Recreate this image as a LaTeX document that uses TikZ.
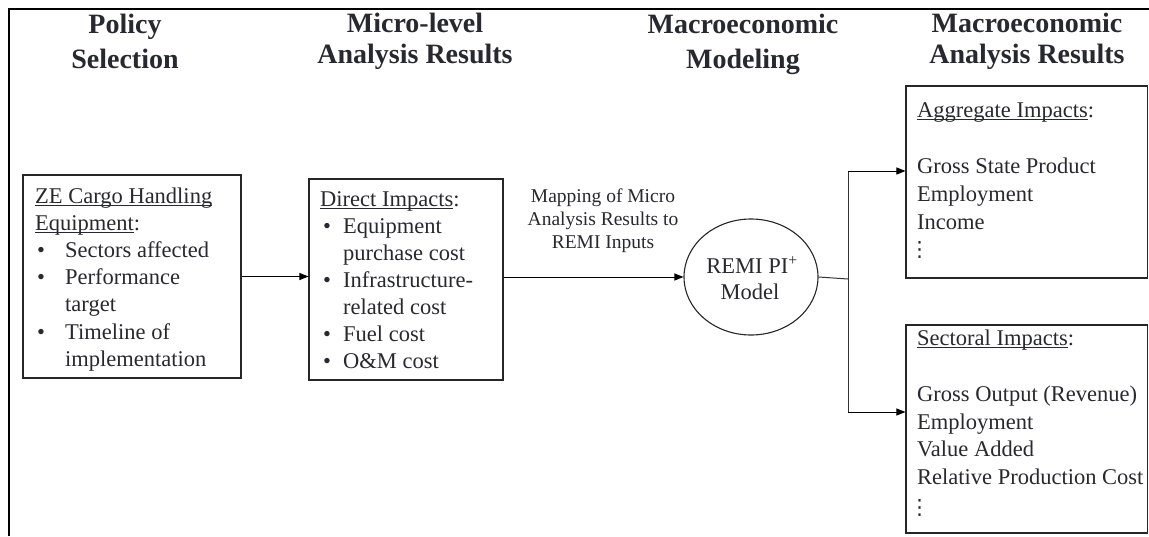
\documentclass[tikz,border=0pt]{standalone}
\usepackage{fontspec}
\setmainfont{Liberation Serif}
\newfontfamily\dvs{DejaVu Sans}
\usetikzlibrary{shapes.geometric,arrows.meta}
\definecolor{txt}{RGB}{40,40,48}
\newcommand\myul[1]{\setbox0\hbox{#1}\rlap{\rule[-3.2pt]{\wd0}{0.9pt}}\box0}
\newcommand\myvdots{{\dvs\fontsize{21}{25}\selectfont ⋮}}
\tikzset{
  ttl/.style={anchor=base,inner sep=0pt,text=txt,font=\fontsize{28}{34}\selectfont\bfseries},
  bt/.style={anchor=base west,inner sep=0pt,text=txt,font=\fontsize{22.5}{27}\selectfont},
  ct/.style={anchor=base,inner sep=0pt,text=txt,font=\fontsize{22.5}{27}\selectfont},
  lbl/.style={anchor=base,inner sep=0pt,text=txt,font=\fontsize{19.5}{23}\selectfont},
  boxx/.style={draw=black!85,line width=1.1pt,rectangle,inner sep=0pt},
  arr/.style={draw=black,line width=1pt,-{Triangle[length=9pt,width=7pt]}},
  ln/.style={draw=black!80,line width=1pt}
}
\begin{document}
\begin{tikzpicture}[x=1pt,y=-1pt]
\useasboundingbox (0,0) rectangle (1149,536);
% frame
\coordinate (fa) at (9,536);
\coordinate (fb) at (9,9);
\coordinate (fc) at (1149,9);
\draw[black,line width=1.2pt] (fa) -- (fb) -- (fc);
% titles
\node[ttl] (t1a) at (125,33) {Policy};
\node[ttl] (t1b) at (125,68) {Selection};
\node[ttl] (t2a) at (415,32) {Micro-level};
\node[ttl] (t2b) at (415,63) {Analysis Results};
\node[ttl] (t3a) at (743,33) {Macroeconomic};
\node[ttl] (t3b) at (743,68) {Modeling};
\node[ttl] (t4a) at (1027,32) {Macroeconomic};
\node[ttl] (t4b) at (1027,63) {Analysis Results};
% box 1
\node[boxx,minimum width=218pt,minimum height=203pt] (pol) at (132,276.5) {};
\node[bt] (p1) at (35,203) {\myul{ZE Cargo Handling}};
\node[bt] (p2) at (35,230) {\myul{Equipment}:};
\node[bt] (pb1) at (37,257) {•};
\node[bt] (p3) at (65,257) {Sectors affected};
\node[bt] (pb2) at (37,284) {•};
\node[bt] (p4) at (65,284) {Performance};
\node[bt] (p5) at (65,311) {target};
\node[bt] (pb3) at (37,339) {•};
\node[bt] (p6) at (65,339) {Timeline of};
\node[bt] (p7) at (65,366) {implementation};
% box 2
\node[boxx,minimum width=194pt,minimum height=201pt] (dir) at (406,279.5) {};
\node[bt] (d1) at (320,206) {\myul{Direct Impacts}:};
\node[bt] (db1) at (323,233) {•};
\node[bt] (d2) at (343,233) {Equipment};
\node[bt] (d3) at (343,260) {purchase cost};
\node[bt] (db2) at (323,287) {•};
\node[bt] (d4) at (343,287) {Infrastructure-};
\node[bt] (d5) at (343,314) {related cost};
\node[bt] (db3) at (323,341) {•};
\node[bt] (d6) at (343,341) {Fuel cost};
\node[bt] (db4) at (323,368) {•};
\node[bt] (d7) at (343,368) {O\&M cost};
% mapping label
\node[lbl] (m1) at (603,202) {Mapping of Micro};
\node[lbl] (m2) at (603,225) {Analysis Results to};
\node[lbl] (m3) at (603,248) {REMI Inputs};
% ellipse
\node[draw=black!85,line width=1.1pt,ellipse,minimum width=134pt,minimum height=116pt,inner sep=0pt] (ell) at (751,277) {};
\node[ct] (e1) at (752,273) {REMI PI\textsuperscript{+}};
\node[ct] (e2) at (750,299) {Model};
% aggregate box
\node[boxx,minimum width=241.5pt,minimum height=192pt] (agg) at (1026.75,182) {};
\node[bt] (a1) at (917,117) {\myul{Aggregate Impacts}:};
\node[bt] (a2) at (917,173) {Gross State Product};
\node[bt] (a3) at (917,201) {Employment};
\node[bt] (a4) at (917,229) {Income};
\node[bt] (a5) at (909,256) {\myvdots};
% sectoral box
\node[bt] (s1) at (917,345) {\myul{Sectoral Impacts}:};
\node[boxx,minimum width=241.5pt,minimum height=208pt] (sec) at (1026.75,429) {};
\node[bt] (s2) at (917,401) {Gross Output (Revenue)};
\node[bt] (s3) at (917,429) {Employment};
\node[bt] (s4) at (917,456) {Value Added};
\node[bt] (s5) at (917,484) {Relative Production Cost};
\node[bt] (s6) at (909,514) {\myvdots};
% connectors
\draw[arr] (pol.east) -- (pol.east -| dir.west);
\draw[arr] (ell.west -| dir.east) -- (ell.west);
\coordinate (jn) at (848,279);
\coordinate (jt) at (848,171);
\coordinate (jb) at (848,412);
\draw[ln] (ell.east) -- (jn);
\draw[ln] (jt) -- (jb);
\draw[arr] (jt) -- (jt -| agg.west);
\draw[arr] (jb) -- (jb -| sec.west);
\end{tikzpicture}
\end{document}
